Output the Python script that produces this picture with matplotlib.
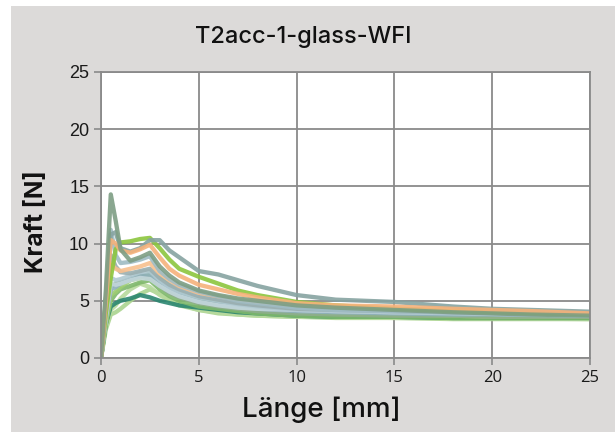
import matplotlib
matplotlib.use("Agg")
import matplotlib.pyplot as plt
from matplotlib.patches import Rectangle

# Messpunkte (Weg in mm) fuer alle Kurven
laenge = [0, 0.25, 0.5, 0.75, 1.0, 1.5, 2.0, 2.5, 3.0, 3.5, 4, 5, 6, 7, 8, 10, 12, 15, 18, 20, 22, 25]

# Kraftverlaeufe der einzelnen Proben [N]
kraft_01 = [0, 6.0, 14.3, 12.0, 9.5, 8.5, 8.8, 9.2, 8.0, 7.2, 6.6, 5.9, 5.5, 5.2, 5.0, 4.6, 4.4, 4.2, 4.0, 3.9, 3.8, 3.7]
kraft_02 = [0, 4.0, 7.0, 9.5, 10.1, 10.2, 10.4, 10.5, 9.6, 8.6, 7.8, 7.1, 6.5, 5.9, 5.5, 4.9, 4.6, 4.3, 4.1, 4.0, 3.9, 3.8]
kraft_03 = [0, 5.0, 10.8, 11.0, 9.6, 9.3, 9.6, 10.3, 10.3, 9.4, 8.8, 7.6, 7.3, 6.8, 6.3, 5.5, 5.1, 4.9, 4.5, 4.3, 4.2, 4.05]
kraft_04 = [0, 5.0, 10.3, 10.0, 9.4, 9.2, 9.5, 9.9, 8.8, 7.8, 7.2, 6.4, 6.0, 5.6, 5.3, 4.8, 4.6, 4.5, 4.3, 4.2, 4.1, 3.9]
kraft_05 = [0, 4.0, 8.2, 7.8, 7.6, 7.8, 8.0, 8.3, 7.4, 6.8, 6.3, 5.7, 5.4, 5.1, 4.9, 4.6, 4.4, 4.3, 4.2, 4.1, 4.0, 3.9]
kraft_06 = [0, 5.0, 11.2, 9.0, 8.3, 8.4, 8.6, 8.9, 7.6, 6.9, 6.4, 5.8, 5.4, 5.0, 4.8, 4.4, 4.2, 4.1, 4.0, 3.95, 3.9, 3.8]
kraft_07 = [0, 4.0, 7.0, 6.8, 6.9, 7.2, 7.5, 7.6, 6.8, 6.2, 5.8, 5.3, 5.0, 4.7, 4.5, 4.2, 4.1, 4.0, 3.9, 3.85, 3.8, 3.7]
kraft_08 = [0, 3.5, 6.0, 6.2, 6.5, 6.9, 7.2, 7.3, 6.6, 6.0, 5.6, 5.0, 4.7, 4.5, 4.3, 4.1, 4.0, 3.9, 3.8, 3.8, 3.75, 3.7]
kraft_09 = [0, 3.0, 4.5, 4.8, 5.0, 5.2, 5.5, 5.3, 5.0, 4.8, 4.6, 4.4, 4.2, 4.0, 3.9, 3.7, 3.6, 3.6, 3.5, 3.5, 3.5, 3.5]
kraft_10 = [0, 2.5, 3.8, 4.0, 4.3, 5.0, 5.6, 6.0, 5.6, 5.1, 4.7, 4.2, 3.9, 3.8, 3.7, 3.6, 3.5, 3.5, 3.4, 3.4, 3.4, 3.4]
kraft_11 = [0, 3.0, 4.2, 4.6, 5.2, 6.0, 6.5, 6.2, 5.5, 5.0, 4.6, 4.2, 4.0, 3.8, 3.7, 3.6, 3.6, 3.5, 3.5, 3.5, 3.45, 3.4]
kraft_12 = [0, 3.0, 5.0, 5.6, 6.0, 6.3, 6.6, 6.8, 6.0, 5.4, 5.0, 4.5, 4.3, 4.1, 3.9, 3.7, 3.6, 3.6, 3.5, 3.5, 3.5, 3.5]
kraft_13 = [0, 4.0, 9.0, 8.0, 7.5, 7.4, 7.6, 7.8, 7.0, 6.4, 6.0, 5.4, 5.1, 4.8, 4.6, 4.3, 4.2, 4.1, 4.0, 3.95, 3.9, 3.85]
kraft_14 = [0, 3.0, 5.5, 5.8, 6.2, 6.8, 7.0, 7.4, 7.0, 6.3, 5.8, 5.2, 4.9, 4.6, 4.4, 4.1, 3.9, 3.8, 3.7, 3.6, 3.6, 3.6]
kraft_15 = [0, 3.5, 6.5, 6.4, 6.5, 6.8, 7.0, 6.9, 6.3, 5.8, 5.4, 4.9, 4.6, 4.4, 4.3, 4.2, 4.1, 4.0, 4.0, 3.95, 3.9, 3.85]
kraft_16 = [0, 3.5, 6.2, 6.5, 6.6, 6.9, 7.2, 7.0, 6.3, 5.7, 5.3, 4.8, 4.5, 4.3, 4.1, 3.9, 3.8, 3.7, 3.7, 3.6, 3.6, 3.6]

kurven = [kraft_10, kraft_11, kraft_09, kraft_12, kraft_14, kraft_16, kraft_08, kraft_15,
          kraft_07, kraft_13, kraft_05, kraft_06, kraft_02, kraft_03, kraft_04, kraft_01]
farben = ['#aad48f', '#b7da9d', '#2b8670', '#7fb86c', '#9ecd72', '#8fae8d', '#8fb0bb', '#c3d6db',
          '#b0c9d1', '#99aeb0', '#f8c08e', '#9fbcc4', '#8cc63e', '#86a3a1', '#f6b27b', '#7d9e84']

fig = plt.figure(figsize=(6.15, 4.32), dpi=100)
fig.patch.set_facecolor('white')
fig.add_artist(Rectangle((11 / 615, 0), 1, 426 / 432, transform=fig.transFigure,
                         facecolor='#dcdad9', edgecolor='none', zorder=0))

ax = fig.add_axes([101 / 615, 1 - 358 / 432, 489 / 615, 286 / 432])
ax.set_facecolor('white')

for y, c in zip(kurven, farben):
    ax.plot(laenge, y, color=c, lw=3.1, alpha=0.9,
            solid_joinstyle='round', solid_capstyle='round')

ax.set_xlim(0, 25)
ax.set_ylim(0, 25)
ax.set_xticks([0, 5, 10, 15, 20, 25])
ax.set_yticks([0, 5, 10, 15, 20, 25])
ax.grid(True, color='#8a8a8a', lw=1.3)
ax.set_axisbelow(True)
for s in ax.spines.values():
    s.set_color('#8a8a8a')
    s.set_linewidth(1.3)
ax.tick_params(colors='#8a8a8a', length=5, width=1.2, labelcolor='#1a1a1a')
for lab in ax.get_xticklabels():
    lab.set_fontfamily('Open Sans')
    lab.set_fontsize(12)
for lab in ax.get_yticklabels():
    lab.set_fontfamily('Liberation Sans')
    lab.set_fontsize(13)

fig.text(303 / 615, 1 - 37 / 432, 'T2acc-1-glass-WFI', ha='center', va='center',
         fontsize=17, fontfamily='Inter', fontweight='medium', color='#111111')
fig.text(36 / 615, 1 - 222 / 432, 'Kraft [N]', ha='center', va='center', rotation=90,
         fontsize=17.5, fontfamily='Inter', fontweight='bold', color='#111111')
fig.text(321 / 615, 1 - 410 / 432, 'Länge [mm]', ha='center', va='center',
         fontsize=20, fontfamily='Inter', fontweight='medium', color='#111111')

fig.savefig('out.png', dpi=100)
